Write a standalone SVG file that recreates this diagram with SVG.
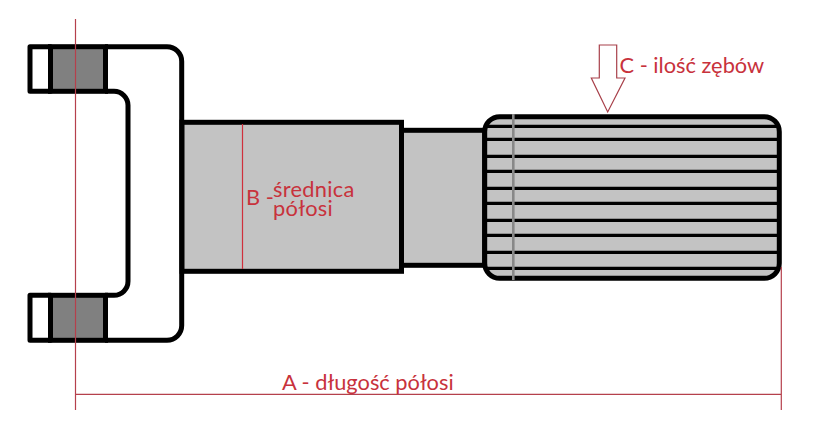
<svg xmlns="http://www.w3.org/2000/svg" width="828" height="446" viewBox="0 0 828 446">
<style>
.k{fill:none;stroke:#000;stroke-width:5;stroke-linejoin:round}
.g{fill:#c3c3c3;stroke:#000;stroke-width:5}
.d{fill:#808080;stroke:#000;stroke-width:5}
.s{stroke:#000;stroke-width:3.2;fill:none}
.r{stroke:#b5404c;stroke-width:1.2;fill:none}
text{font-family:Lato,"Open Sans",sans-serif;fill:#c8323c;font-size:21.8px}
</style>
<rect width="828" height="446" fill="#fff"/>
<g id="fork">
<path class="k" d="M105 46.7H167A14.7 14.7 0 0 1 181.7 61.4V325.6A14.7 14.7 0 0 1 167 340.3H105"/>
<path class="k" d="M105 91.3H114A14 14 0 0 1 128 105.3V281.3A14 14 0 0 1 114 295.3H105"/>
</g>
<g id="top-ear">
<rect class="k" x="30" y="46.7" width="20.5" height="44.6"/>
<rect class="d" x="50.5" y="46.7" width="55" height="44.6"/>
</g>
<g id="bottom-ear">
<rect class="k" x="30" y="295.3" width="20.5" height="45"/>
<rect class="d" x="50.5" y="295.3" width="55" height="45"/>
</g>
<g id="shaft"><rect class="g" x="182" y="122.3" width="219.5" height="149"/></g>
<g id="neck"><rect class="g" x="401.5" y="130.3" width="83.2" height="135"/></g>
<g id="splines">
<rect class="g" x="484.7" y="116.7" width="294.6" height="161.6" rx="15" ry="15"/>
<path class="s" d="M487 126.3H777M487 139.3H777M487 156.3H777M487 171.3H777M487 188.3H777M487 203.3H777M487 220.3H777M487 235.3H777M487 252.3H777M487 268.3H777"/>
<path d="M513.3 114V280" stroke="#888" stroke-width="2.6" fill="none"/>
</g>
<g id="connectors">
<path class="r" d="M75.5 19V410M75.5 394.3H781M781.3 267V410"/>
<path d="M242.5 124V269" stroke="#d0303c" stroke-width="1.2" fill="none"/>
<path d="M599.3 45H616.7V78H625L607.7 112L591.3 78H599.3Z" fill="#fff" stroke="#a8404a" stroke-width="1.2"/>
</g>
<g id="labels">
<text x="619.5" y="73">C - ilość zębów</text>
<text x="246" y="205">B -</text>
<text x="273" y="197" letter-spacing="0.3">średnica<tspan x="273" dy="19">półosi</tspan></text>
<text x="282" y="390">A - długość półosi</text>
</g>
</svg>
